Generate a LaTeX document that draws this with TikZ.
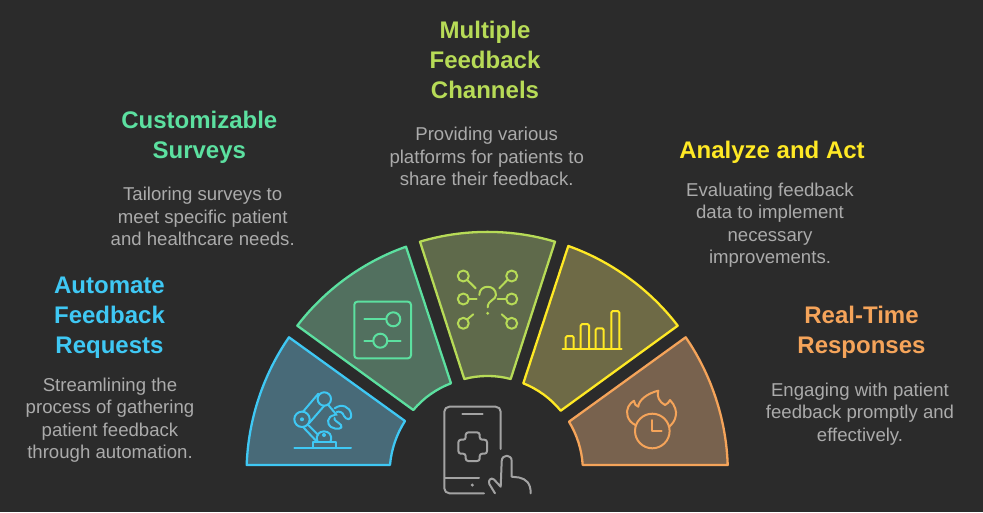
\documentclass[tikz,border=0pt]{standalone}
\usepackage{fontspec}
\setmainfont{Liberation Sans}
\definecolor{bgdark}{HTML}{2B2B2B}
\definecolor{robotblue}{HTML}{3FC8F4}
\definecolor{robotfill}{HTML}{486A78}
\definecolor{surveygreen}{HTML}{5CE0A0}
\definecolor{surveyfill}{HTML}{52705F}
\definecolor{channellime}{HTML}{B7DB57}
\definecolor{channelfill}{HTML}{5F6A4B}
\definecolor{actyellow}{HTML}{FFE925}
\definecolor{actfill}{HTML}{6E6A46}
\definecolor{timeorange}{HTML}{F5A45A}
\definecolor{timefill}{HTML}{78624E}
\definecolor{bodygrey}{HTML}{ABABAB}
\definecolor{phonegrey}{HTML}{A3A3A3}
\tikzset{
  title/.style={align=center,inner sep=0pt,font=\bfseries\fontsize{24}{30}\selectfont},
  body/.style={align=center,inner sep=0pt,text=bodygrey,font=\fontsize{18.6}{22.5}\selectfont},
  sector/.style 2 args={line width=2.3pt,line join=round,draw=#1,fill=#2},
  icon/.style={line width=2pt,line cap=round,line join=round,draw=#1},
  arcside/.style={bend left=#1,looseness=0.86}
}
\begin{document}
\begin{tikzpicture}[x=1pt,y=-1pt]
  \fill[bgdark] (0,0) rectangle (983,512);
  \useasboundingbox (0,0) rectangle (983,512);

  % Sectors, left to right
  \draw[sector={robotblue}{robotfill}] (246.7,465) to[arcside=16.4] (289,337.3) -- (405,421)
    to[arcside=-14] (390,465) -- cycle;
  \draw[sector={surveygreen}{surveyfill}] (297.3,325.7) to[arcside=16.6] (406,246.7) -- (451,383.3)
    to[arcside=-14.7] (413.3,410) -- cycle;
  \draw[sector={channellime}{channelfill}] (420,241.7) to[arcside=16.8] (555,241.7) -- (510.7,379)
    to[arcside=-15] (464.3,379) -- cycle;
  \draw[sector={actyellow}{actfill}] (568.3,246) to[arcside=16.6] (677.7,325.7) -- (560.7,410.7)
    to[arcside=-14.7] (523.3,383.3) -- cycle;
  \draw[sector={timeorange}{timefill}] (685.7,337.3) to[arcside=16.4] (727.7,465) -- (582.7,465)
    to[arcside=-14] (569,421.7) -- cycle;

  % Robot arm
  \begin{scope}[icon=robotblue]
    \draw (294.3,447.7) -- (351,447.7);
    \draw (312.7,447.7) -- (312.7,442) -- (335.7,442) -- (335.7,447.7);
    \draw (317.5,441.5) .. controls (312.5,428) and (335.5,428) .. (330.5,441.5);
    \fill[robotblue,draw=none] (324,435) circle (2);
    \draw (302,419.3) circle (7.7);
    \fill[robotblue,draw=none] (302,419.3) circle (2);
    \draw (324.3,399) circle (6.7);
    \draw (303,411.7) -- (318.3,393.7);
    \draw (309,423.3) -- (324.3,405.7);
    \draw (308.3,425) -- (318.3,435);
    \draw (303.3,427.3) -- (316,440.7);
    \draw (328.3,405) -- (336.7,415);
    \draw (334.7,408.3) .. controls (342,403) and (350,407) .. (351,414)
      .. controls (352,421) and (346,420) .. (344,416) .. controls (343,412) and (339,411) .. (336.7,412);
    \draw (335,415) .. controls (326,416) and (327,425) .. (331,427)
      .. controls (336,430) and (344,429) .. (341,425) .. controls (337,421) and (334,421) .. (334.5,418);
  \end{scope}

  % Sliders
  \begin{scope}[icon=surveygreen]
    \draw[rounded corners=3pt] (354.3,301.7) rectangle (411,358.3);
    \draw (364.3,319.3) -- (386,319.3);
    \draw (393.3,319.3) circle (7);
    \draw (364.3,340.7) -- (373.3,340.7);
    \draw (380.3,340.7) circle (7);
    \draw (387.3,340.7) -- (400.7,340.7);
  \end{scope}

  % Channels around a question mark
  \begin{scope}[icon=channellime]
    \foreach \cx/\cy in {463.3/276,511.7/276,463.3/299,511.7/299,463.3/323.3,511.7/323.3}
      \draw (\cx,\cy) circle (5.5);
    \draw (467.3,280) -- (475.7,288.3);
    \draw (507.3,280) -- (499.3,288.3);
    \draw (469,299) -- (476.7,299);
    \draw (506,299) -- (497.7,299);
    \draw (467.3,319.3) -- (473.3,314.3);
    \draw (507.3,319.3) -- (501.7,314.3);
    \draw (479.3,295) .. controls (479.3,284) and (496,284) .. (496,295)
      .. controls (496,300) and (487.7,300) .. (487.7,307.3);
    \fill[channellime,draw=none] (487.7,313.3) circle (1.6);
  \end{scope}

  % Bar chart
  \begin{scope}[icon=actyellow]
    \draw (562.7,348.7) -- (621.7,348.7);
    \foreach \xa/\xb/\ytop in {565.7/573.7/336,580.7/589/324,595.7/603.7/328.3,611.3/619.3/311}
      \draw[rounded corners=1.5pt] (\xa,348.7) -- (\xa,\ytop) -- (\xb,\ytop) -- (\xb,348.7);
  \end{scope}

  % Flame and clock
  \begin{scope}[icon=timeorange]
    \draw (652.3,431) circle (17.3);
    \draw (652.3,420) -- (652.3,431) -- (661.7,431);
    \draw (635.3,425) .. controls (627,421) and (625.5,412) .. (628.3,406.7)
      .. controls (629.5,404) and (632,402) .. (634,400.7)
      .. controls (634,404) and (636,406) .. (638.3,406.7)
      .. controls (638.5,400) and (648,393) .. (658.3,390.7)
      .. controls (656.5,396) and (659,402) .. (665,405)
      .. controls (667.5,404) and (669,402) .. (670,400)
      .. controls (675,405) and (677,412) .. (675.7,416)
      .. controls (675,421) and (672,424) .. (669.3,426.7);
  \end{scope}

  % Phone and hand
  \begin{scope}[icon=phonegrey]
    \draw[rounded corners=5pt] (500.7,449) -- (500.7,406.7) -- (444.3,406.7) -- (444.3,493.3) -- (484,493.3);
    \draw (462.3,414) -- (482.7,414);
    \draw (445,478.3) -- (479,478.3);
    \fill[phonegrey,draw=none] (472.3,485) circle (1.7);
    \draw[rounded corners=2.5pt] (465.7,432.4) -- (479.7,432.4) -- (479.7,439.7) -- (487,439.7) -- (487,453.7)
      -- (479.7,453.7) -- (479.7,461) -- (465.7,461) -- (465.7,453.7) -- (458.4,453.7) -- (458.4,439.7)
      -- (465.7,439.7) -- cycle;
    \draw (495,493.3) -- (489.3,484) .. controls (488,480) and (491,477) .. (494,479.5)
      -- (500.7,486.7) -- (501.7,461) .. controls (502,454) and (511.7,454) .. (511.7,461)
      -- (511.7,476.7) -- (519,477.5) .. controls (526,479) and (530.7,483) .. (530.7,493.3);
  \end{scope}

  % Labels
  \node[title,text=robotblue] (automate) at (109.5,317.5) {Automate\\Feedback\\Requests};
  \node[body] (automatetext) at (110,420) {Streamlining the\\process of gathering\\patient feedback\\through automation.};
  \node[title,text=surveygreen] (surveys) at (199.3,137.5) {Customizable\\Surveys};
  \node[body] (surveystext) at (202.7,216.5) {Tailoring surveys to\\meet specific patient\\and healthcare needs.};
  \node[title,text=channellime] (channels) at (485,60) {Multiple\\Feedback\\Channels};
  \node[body] (channelstext) at (486.7,156.5) {Providing various\\platforms for patients to\\share their feedback.};
  \node[title,text=actyellow] (analyze) at (772,152) {Analyze and Act};
  \node[body] (analyzetext) at (770,225) {Evaluating feedback\\data to implement\\necessary\\improvements.};
  \node[title,text=timeorange] (realtime) at (861.5,332) {Real-Time\\Responses};
  \node[body] (realtimetext) at (860,414) {Engaging with patient\\feedback promptly and\\effectively.};
\end{tikzpicture}
\end{document}
